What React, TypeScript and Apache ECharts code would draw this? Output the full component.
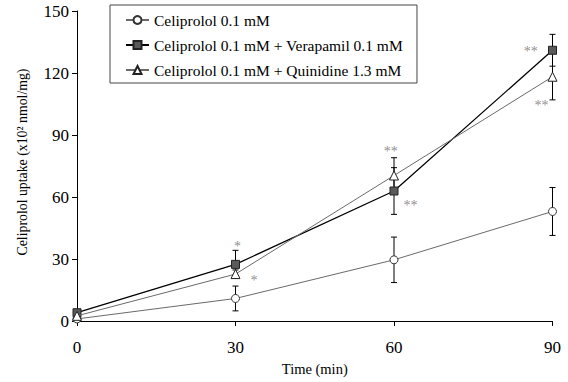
import React, { useEffect, useRef } from "react";
import * as echarts from "echarts";

const xTicks = [0, 30, 60, 90];
const times = [0, 30, 60, 90];
const seriesNames = [
  "Celiprolol 0.1 mM",
  "Celiprolol 0.1 mM + Verapamil 0.1 mM",
  "Celiprolol 0.1 mM + Quinidine 1.3 mM",
];
const celiprolol = [1, 10.9, 29.6, 53];
const celiprololErr = [0.5, 6, 11, 11.6];
const verapamil = [4, 27.4, 62.9, 131];
const verapamilErr = [0, 6.8, 11.3, 7.7];
const quinidine = [2.5, 22.7, 70.4, 118.2];
const quinidineErr = [0, 2, 8.6, 11.2];
const stars: [number, number, string][] = [
  [30.4, 36, "*"],
  [33.5, 19.5, "*"],
  [59.4, 82, "**"],
  [63.1, 56, "**"],
  [85.9, 130.3, "**"],
  [87.9, 104.2, "**"],
];

const FONT = "'Liberation Serif', 'Times New Roman', serif";

export default function App() {
  const ref = useRef<HTMLDivElement>(null);
  useEffect(() => {
    document.body.style.margin = "0";
    if (!ref.current) return;
    const chart = echarts.init(ref.current, undefined, { renderer: "svg" });
    const errData: number[][] = [];
    const allVals = [celiprolol, verapamil, quinidine];
    const allErr = [celiprololErr, verapamilErr, quinidineErr];
    allVals.forEach((vals, s) => {
      vals.forEach((v, i) => {
        if (allErr[s][i] > 0) errData.push([times[i], v - allErr[s][i], v + allErr[s][i]]);
      });
    });
    const lineData = (vals: number[]) => vals.map((v, i) => [times[i], v]);
    chart.setOption({
      animation: false,
      backgroundColor: "#ffffff",
      textStyle: { fontFamily: FONT },
      grid: { left: 77, right: 15.5, top: 11, bottom: 61, containLabel: false },
      legend: {
        orient: "vertical",
        left: 110,
        top: 5,
        padding: [7, 14, 5, 15],
        itemGap: 9,
        itemWidth: 23,
        itemHeight: 10,
        borderColor: "#444",
        borderWidth: 1,
        textStyle: { fontFamily: FONT, fontSize: 15.5, color: "#000" },
        data: seriesNames,
      },
      xAxis: {
        type: "value",
        min: 0,
        max: 90,
        interval: 30,
        name: "Time (min)",
        nameLocation: "middle",
        nameGap: 40,
        nameTextStyle: { fontFamily: FONT, fontSize: 14.5, color: "#000" },
        axisLine: { show: true, lineStyle: { color: "#000", width: 1 } },
        axisTick: { show: true, length: 5, lineStyle: { color: "#000" } },
        axisLabel: {
          fontFamily: FONT,
          fontSize: 17,
          color: "#000",
          margin: 18,
          customValues: xTicks,
        },
        splitLine: { show: false },
      },
      yAxis: {
        type: "value",
        min: 0,
        max: 150,
        interval: 30,
        name: "Celiprolol uptake (x10² nmol/mg)",
        nameLocation: "middle",
        nameGap: 48,
        nameRotate: 90,
        nameTextStyle: { fontFamily: FONT, fontSize: 13.8, color: "#000", padding: [0, 0, 0, 8] },
        axisLine: { show: true, lineStyle: { color: "#000", width: 1 } },
        axisTick: { show: true, length: 5, lineStyle: { color: "#000" } },
        axisLabel: { fontFamily: FONT, fontSize: 17, color: "#000", margin: 8 },
        splitLine: { show: false },
      },
      series: [
        {
          type: "custom",
          name: "err",
          silent: true,
          z: 1,
          data: errData,
          renderItem: (params: any, api: any) => {
            const x = api.value(0);
            const lo = api.coord([x, api.value(1)]);
            const hi = api.coord([x, api.value(2)]);
            const w = 3;
            const st = { stroke: "#000", lineWidth: 1 };
            return {
              type: "group",
              children: [
                { type: "line", shape: { x1: lo[0], y1: lo[1], x2: hi[0], y2: hi[1] }, style: st },
                { type: "line", shape: { x1: lo[0] - w, y1: lo[1], x2: lo[0] + w, y2: lo[1] }, style: st },
                { type: "line", shape: { x1: hi[0] - w, y1: hi[1], x2: hi[0] + w, y2: hi[1] }, style: st },
              ],
            };
          },
        },
        {
          type: "line",
          name: seriesNames[0],
          data: lineData(celiprolol),
          z: 3,
          symbol: "circle",
          symbolSize: 8,
          lineStyle: { color: "#6a6a6a", width: 1 },
          itemStyle: { color: "#ffffff", borderColor: "#333", borderWidth: 1 },
        },
        {
          type: "line",
          name: seriesNames[1],
          data: lineData(verapamil),
          z: 4,
          symbol: "rect",
          symbolSize: 8,
          lineStyle: { color: "#000", width: 1.3 },
          itemStyle: { color: "#5a5a5a", borderColor: "#222", borderWidth: 1 },
        },
        {
          type: "line",
          name: seriesNames[2],
          data: lineData(quinidine),
          z: 5,
          symbol: "triangle",
          symbolSize: 9,
          lineStyle: { color: "#6a6a6a", width: 1 },
          itemStyle: { color: "#ffffff", borderColor: "#222", borderWidth: 1 },
        },
        {
          type: "scatter",
          name: "stars",
          silent: true,
          z: 6,
          symbol: "circle",
          symbolSize: 1,
          itemStyle: { color: "rgba(0,0,0,0)" },
          data: stars.map((s) => ({ value: [s[0], s[1]], name: s[2] })),
          label: {
            show: true,
            position: "inside",
            formatter: (p: any) => p.name,
            color: "#707070",
            fontSize: 14,
            fontFamily: FONT,
          },
        },
      ],
    });
    return () => chart.dispose();
  }, []);
  return <div ref={ref} style={{ width: 568, height: 382 }} />;
}
